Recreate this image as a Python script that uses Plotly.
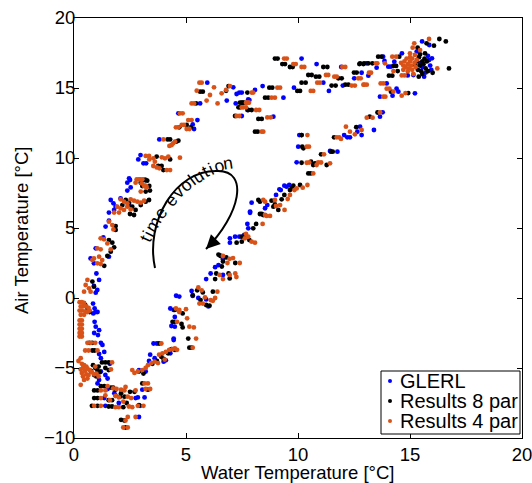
import math
import plotly.graph_objects as go

# ---------------- data (water temperature, air temperature) ----------------
glerl_points = [
    (0.85,-0.4),(0.92,-0.75),(0.97,-1.0),(0.86,-1.1),(1.05,-1.0),(0.92,-1.7),(0.97,-2.05),(0.9,-2.5),
    (1.07,-2.65),(1.12,-2.3),(1.2,-3.2),(1.27,-3.35),(1.35,-3.85),(1.12,-4.0),(1.2,-4.3),(1.12,-5.85),
    (1.05,-6.1),(1.2,-5.25),(1.4,-5.5),(1.5,-5.75),(1.6,-4.7),(1.35,-7.15),(1.4,-7.7),(1.8,-6.8),
    (1.85,-6.95),(2.95,-7.7),(2.75,-7.15),(2.85,-7.1),(2.9,-8.5),(3.15,-7.1),(1.5,-6.5),(2.0,-7.5),
    (2.9,-5.15),(3.2,-5.25),(3.05,-6.55),(3.4,-4.05),(3.55,-3.25),(3.7,-3.25),(4.0,-4.55),(4.1,-4.45),
    (4.3,-3.95),(4.55,-3.7),(4.45,-3.0),(3.35,-4.5),(3.6,-4.3),
    (4.3,-0.75),(4.45,-0.85),(4.5,-2.05),(4.35,-2.0),(4.45,-2.9),(5.25,0.5),(5.3,0.15),(4.56,0.16),
    (4.7,0.1),(5.55,0.0),(5.9,-0.1),(6.0,-0.6),(4.5,-1.35),
    (6.65,2.75),(6.45,2.35),(6.65,1.65),(6.1,1.75),(5.9,1.35),(6.5,3.05),(6.3,2.2),
    (6.96,4.26),(6.96,3.95),(7.19,4.38),(7.38,4.38),(7.6,4.5),(7.74,5.29),(7.78,4.98),(7.86,6.09),
    (7.93,6.81),(7.86,6.17),(8.63,6.64),(8.53,6.41),
    (9.39,8.02),(9.49,7.95),(9.61,8.07),(9.17,7.76),(9.23,7.71),(9.02,7.36),(9.94,9.69),(11.43,10.5),
    (11.76,10.45),(10.01,10.81),(10.06,11.64),(10.16,11.64),
    (12.2,11.48),(12.32,11.48),(12.06,11.64),(12.65,11.88),(12.77,12.24),(13.66,12.95),(13.78,13.26),
    (13.39,12.0),(12.84,11.64),
    (15.54,18.33),(15.86,18.07),(14.64,17.48),(15.98,17.12),(15.63,15.81),(15.15,15.93),(14.9,15.9),
    (13.8,17.24),(13.51,16.45),(13.86,16.93),(14.03,16.52),(14.14,16.52),(14.3,16.88),(12.84,16.09),
    (13.96,15.33),(14.4,14.95),(14.48,14.74),(15.22,14.62),(14.22,14.45),(13.66,14.38),(15.9,16.6),
    (15.8,17.3),(15.55,16.5),(15.7,16.1),(15.95,16.3),(15.45,16.8),(15.85,17.0),(15.3,17.6),
    (10.16,17.1),(10.83,16.71),(11.93,16.5),(13.07,16.76),(12.51,15.69),(13.14,15.88),(11.13,15.38),
    (12.0,15.17),(8.42,15.14),(9.82,15.02),(11.38,14.79),(9.35,14.31),(7.49,14.67),(8.08,14.86),
    (7.83,14.14),(7.74,13.43),(8.9,12.95),(7.49,13.0),
    (5.95,15.38),(7.11,15.05),(7.26,14.57),(7.38,14.67),(5.63,13.9),(6.82,14.1),(7.22,13.9),(7.78,14.19),
    (4.66,13.19),(5.3,12.4),(5.36,12.07),(5.51,12.71),(3.81,11.33),
    (2.87,9.9),(2.97,10.21),(3.1,9.62),(3.22,9.62),(2.5,8.43),(2.38,8.24),
    (2.46,8.55),(2.53,7.9),(2.38,7.67),(1.64,7.0),(1.76,6.76),(1.86,6.52),(1.56,6.1),(1.79,6.29),
    (2.08,7.12),(2.46,6.64),
    (1.41,5.1),(1.56,5.52),(1.31,4.33),(0.97,3.55),(0.74,2.83),(0.89,2.48),(1.56,2.95),(1.12,1.29),
    (0.89,0.86),(1.04,0.57),(0.97,0.38),(1.0,1.75),
]

results8_points = [
    (0.5,-0.5),(0.6,-0.8),(0.7,-1.0),(0.68,-3.2),(0.82,-3.2),(0.82,-3.75),(0.92,-3.75),(0.85,-4.8),
    (0.95,-5.0),(1.05,-5.2),(1.15,-5.3),(0.9,-5.5),(1.0,-5.6),(0.75,-5.2),(1.1,-4.9),(1.25,-4.6),
    (1.4,-4.6),(1.55,-4.6),(1.4,-5.0),(1.55,-5.15),(1.2,-6.3),(1.35,-6.3),(1.65,-6.4),(1.75,-6.4),
    (2.5,-6.7),(2.7,-6.7),(0.9,-6.6),(1.05,-6.6),(0.9,-7.15),(1.05,-7.15),(1.55,-7.3),(1.7,-7.3),
    (2.05,-7.05),(2.25,-7.05),(0.8,-7.7),(1.05,-7.7),(1.55,-7.75),(1.7,-7.75),(2.2,-7.8),(2.9,-7.65),
    (2.1,-8.7),(2.25,-8.75),(2.3,-9.25),(1.85,-6.55),(2.1,-6.8),(2.35,-7.5),
    (2.9,-5.25),(3.1,-5.4),(3.05,-6.1),(3.3,-6.55),(3.5,-4.7),(3.7,-4.5),(3.8,-3.25),(3.9,-4.2),
    (4.0,-4.35),(4.2,-3.95),(4.35,-3.65),(4.5,-3.7),(5.15,-3.55),(5.25,-3.55),
    (4.85,-1.1),(4.4,-1.7),(4.5,-1.7),(4.85,-2.1),(4.8,-1.85),(5.1,-2.9),(5.5,0.55),(5.3,0.2),
    (5.75,0.4),(5.65,-0.15),(5.9,-0.5),(6.05,-0.55),(6.2,0.45),(4.5,-0.85),
    (6.45,3.1),(6.55,3.0),(6.65,2.6),(6.6,2.25),(6.9,1.75),(7.2,2.5),(6.35,1.75),(6.3,1.35),(6.95,1.4),
    (6.8,2.9),
    (7.26,3.95),(7.49,4.38),(7.63,4.38),(7.49,4.02),(7.83,4.14),(8.0,4.98),(8.13,5.29),(8.3,6.0),
    (8.23,7.0),(8.3,6.88),(8.82,6.95),(9.27,7.05),(8.9,6.52),(8.97,6.69),(8.45,5.93),(8.38,6.0),(9.12,6.29),
    (9.79,8.02),(9.72,7.83),(10.09,8.07),(9.64,7.71),(9.39,7.36),(10.46,8.9),(10.57,8.9),(10.16,9.66),
    (10.58,9.74),(10.76,9.62),(10.68,9.5),(11.28,9.5),(11.03,10.26),(10.19,10.81),(10.24,10.69),
    (10.16,11.64),(11.47,10.45),(11.55,10.45),
    (11.61,11.48),(13.2,12.95),(13.55,13.25),(12.6,12.2),
    (16.31,18.5),(16.6,18.33),(16.74,16.4),(16.07,18.02),(15.34,17.88),(15.67,17.48),(15.74,18.19),
    (15.39,15.81),(16.01,16.09),(13.58,17.24),(13.73,17.24),(14.52,17.24),(12.77,16.76),(12.95,16.76),
    (13.14,16.76),(13.32,16.76),(14.26,16.58),(14.38,16.58),(14.45,16.21),(14.06,15.88),(14.21,15.88),
    (14.15,14.74),(14.92,14.64),(15.35,16.3),(15.45,16.6),(15.55,16.9),(15.65,17.1),(15.4,17.2),
    (15.7,16.4),(15.5,16.2),(15.6,16.7),(15.75,16.9),(15.3,16.9),(15.45,17.4),(15.8,16.2),(15.55,16.0),
    (15.25,16.6),
    (8.97,17.1),(9.09,17.1),(9.3,16.71),(9.42,16.71),(9.64,16.5),(9.76,16.5),(11.13,16.5),(11.31,16.5),
    (12.74,16.71),(12.92,16.71),(10.46,15.93),(10.61,15.93),(10.8,15.81),(10.95,15.81),(11.8,15.69),
    (11.95,15.69),(12.5,16.1),(12.62,16.1),(10.16,15.38),(10.34,15.38),(11.5,15.17),(11.68,15.17),
    (12.11,15.24),(12.25,15.24),(8.72,15.02),(8.85,15.02),(9.97,14.79),(10.09,14.79),(8.53,14.31),
    (8.67,14.31),(7.74,14.67),(7.49,13.95),(7.59,13.95),(7.78,13.43),(7.93,13.43),(8.23,12.79),
    (8.38,12.79),(8.08,11.88),(8.2,11.88),
    (5.63,14.74),(5.75,14.74),(6.9,15.14),(6.79,14.8),(5.45,13.9),(7.41,13.95),(7.53,13.95),(7.34,13.62),
    (7.41,13.62),(7.19,13.0),(5.03,12.36),(4.7,12.19),(5.21,12.19),(4.18,11.33),(4.29,11.33),(4.58,11.17),
    (4.66,11.24),
    (3.69,10.1),(4.29,9.9),(3.76,9.43),(3.91,9.43),(3.99,9.14),(3.1,8.43),(3.17,8.43),(3.17,8.0),(3.36,8.0),
    (3.2,8.43),(3.27,8.38),(3.39,7.67),(3.2,7.6),(3.05,8.0),(2.98,8.24),(2.31,7.0),(2.46,6.81),(2.6,6.52),
    (2.75,6.29),(2.98,6.64),(3.2,6.88),(3.35,7.0),(2.68,5.93),(2.5,6.0),(2.16,6.64),
    (1.86,5.14),(1.86,4.86),(1.56,4.14),(1.71,3.95),(1.79,3.62),(1.64,3.31),(1.49,3.0),(0.82,1.17),
    (0.89,0.81),(1.35,2.3),
]

results4_points = [
    (0.25,-0.3),(0.35,-0.3),(0.45,-0.35),(0.3,-0.6),(0.4,-0.6),(0.55,-0.6),(0.65,-0.7),(0.25,-0.9),
    (0.35,-0.9),(0.5,-0.95),(0.6,-1.0),(0.7,-0.9),(0.3,-1.2),(0.45,-1.2),(0.25,-1.6),(0.35,-1.6),
    (0.25,-1.9),(0.35,-1.9),(0.25,-2.2),(0.35,-2.2),(0.25,-2.5),(0.35,-2.5),(0.25,-2.75),(0.35,-2.75),
    (0.6,-3.2),(0.75,-3.2),(0.95,-3.2),(0.5,-3.75),(0.65,-3.75),(1.05,-3.75),(0.3,-4.3),(0.2,-4.5),
    (0.35,-4.7),(0.45,-4.8),(0.55,-4.9),(0.4,-5.0),(0.6,-5.05),(0.3,-5.1),(0.5,-5.2),(0.7,-5.15),
    (0.8,-5.3),(0.35,-5.35),(0.55,-5.45),(0.65,-5.5),(0.9,-5.45),(0.4,-5.6),(0.6,-5.75),(0.45,-5.85),
    (0.3,-6.2),(1.0,-5.4),(1.1,-5.6),(0.95,-4.9),(1.7,-4.6),(1.65,-5.1),(1.2,-6.6),(1.4,-6.6),(1.5,-6.3),
    (1.75,-6.45),(1.9,-6.5),(2.1,-6.55),(2.25,-6.6),(2.3,-6.35),(2.75,-6.6),(1.2,-7.15),(1.85,-7.0),
    (2.0,-7.1),(2.4,-7.05),(2.55,-7.15),(0.9,-7.7),(1.2,-7.7),(1.85,-7.8),(2.0,-7.8),(2.45,-7.75),
    (2.6,-7.8),(2.85,-7.7),(3.1,-7.7),(2.4,-8.5),(2.75,-8.5),(2.3,-8.75),(2.2,-9.25),(2.4,-9.25),
    (1.6,-7.3),(2.2,-7.4),(1.4,-6.95),
    (2.6,-5.15),(2.7,-5.35),(2.85,-5.25),(3.05,-5.15),(3.2,-5.0),(3.15,-6.1),(3.3,-6.1),(3.2,-6.5),
    (3.4,-6.5),(3.3,-4.8),(3.45,-4.65),(3.6,-4.55),(3.75,-4.65),(3.8,-4.05),(3.95,-3.95),(4.1,-3.85),
    (4.25,-3.7),(4.4,-3.65),(4.5,-3.6),(3.9,-3.25),(4.05,-4.4),(5.3,-3.55),(4.6,-3.7),
    (4.55,-0.75),(4.7,-0.85),(5.0,-0.8),(4.6,-1.7),(5.05,-1.45),(5.15,-2.05),(5.55,0.75),(5.7,0.55),
    (5.85,0.05),(6.1,-0.15),(6.2,-0.2),(6.3,0.0),(6.4,0.45),(5.6,-0.4),(5.75,-0.4),(4.7,-1.0),
    (5.35,-2.1),(5.45,-2.9),
    (6.65,3.0),(6.85,2.5),(6.95,1.65),(7.25,1.5),(7.2,1.75),(7.4,2.5),(6.5,1.65),(6.65,1.35),(6.95,2.8),
    (7.1,2.85),
    (7.63,4.26),(7.78,4.38),(7.93,4.02),(8.08,3.95),(7.68,4.57),(8.42,5.29),(8.53,5.93),(8.45,7.0),
    (8.53,6.88),(8.97,7.0),(9.02,6.57),(9.2,6.64),(9.4,6.29),(8.6,5.86),(8.75,5.86),
    (9.84,7.71),(9.94,7.83),(10.21,7.88),(10.42,8.07),(9.54,7.07),(9.64,7.36),(10.68,8.9),(10.39,9.66),
    (10.5,9.68),(10.83,9.5),(10.9,9.68),(11.03,9.68),(11.43,9.62),(11.16,10.26),(10.39,10.81),
    (10.49,10.81),(10.42,11.64),
    (11.73,11.48),(11.84,11.48),(11.92,11.36),(12.14,12.24),(12.32,11.88),(12.54,11.69),(12.84,12.0),
    (13.07,12.88),(13.33,12.88),(13.66,13.26),
    (15.85,18.5),(15.19,18.19),(15.12,17.88),(15.45,17.71),(15.0,17.48),(15.22,17.36),(16.22,16.4),
    (14.63,15.9),(14.76,15.9),(14.21,17.24),(14.38,17.24),(13.48,16.76),(13.54,16.76),(13.88,16.76),
    (14.26,16.21),(13.17,16.09),(13.26,16.09),(12.92,15.24),(13.07,15.24),(13.69,15.33),(13.81,15.33),
    (13.96,14.95),(14.08,14.95),(14.26,14.74),(14.8,14.64),(14.63,14.45),(13.81,14.38),(13.9,14.38),
    (14.7,16.3),(14.8,16.5),(14.9,16.7),(15.0,16.9),(15.1,17.1),(14.75,16.9),(14.95,16.4),(15.05,16.6),
    (15.2,16.8),(14.85,17.1),(14.7,16.6),(15.1,16.3),(15.25,16.5),(14.6,16.8),(15.0,17.2),(14.9,16.2),
    (15.3,17.0),(15.15,16.0),
    (9.38,17.1),(9.5,17.1),(9.79,16.71),(9.9,16.71),(10.16,16.5),(10.28,16.5),(11.98,16.5),(12.11,16.5),
    (11.25,15.93),(11.35,15.93),(11.62,15.81),(11.73,15.81),(12.69,15.69),(12.8,15.69),(10.86,15.38),
    (10.98,15.38),(12.4,15.17),(12.54,15.17),(12.96,15.24),(9.08,15.02),(9.2,15.02),(10.57,14.79),
    (10.68,14.79),(8.82,14.31),(8.97,14.31),(7.93,14.67),(8.0,14.67),(7.71,13.95),(7.81,13.95),
    (7.49,13.62),(8.13,13.43),(8.27,13.43),(8.63,12.9),(8.78,12.9),(8.38,11.88),(8.45,11.88),
    (5.6,15.38),(5.7,15.38),(5.48,14.81),(6.25,15.05),(6.07,14.5),(6.59,14.62),(6.79,14.86),(6.96,15.14),
    (5.25,13.9),(5.36,13.9),(5.92,14.1),(6.41,13.9),(7.68,13.95),(7.78,13.95),(7.56,13.62),(7.68,13.62),
    (7.26,13.0),(7.38,13.0),(4.73,13.19),(4.85,13.19),(4.81,12.36),(4.91,12.36),(4.55,12.19),(4.66,12.19),
    (5.03,12.07),(5.15,12.07),(5.1,12.71),(5.25,12.71),(3.99,11.33),(4.26,10.86),(4.36,10.93),
    (4.43,11.05),(4.51,11.17),
    (3.36,9.9),(3.54,9.98),(3.92,10.05),(4.06,9.98),(4.21,10.1),(4.73,10.02),(3.54,9.43),(3.69,9.33),
    (3.81,9.26),(3.61,9.74),(4.14,9.14),(4.29,9.14),(2.8,8.48),(2.95,8.48),(3.02,8.19),(3.22,8.0),
    (3.2,10.15),(3.35,10.15),
    (2.9,8.48),(3.05,8.48),(3.13,8.0),(3.24,7.9),(2.98,7.6),(2.08,7.05),(2.23,6.88),(2.38,6.76),
    (2.53,7.05),(2.68,6.95),(2.83,6.88),(1.93,6.52),(2.08,6.4),(2.23,6.29),(2.38,6.52),(2.53,6.33),
    (2.98,6.81),(3.13,6.95),(1.79,6.1),(2.01,6.1),(2.75,8.24),
    (1.56,5.45),(1.71,5.21),(1.76,4.9),(1.19,4.26),(1.34,4.19),(1.04,3.55),(1.19,3.48),(1.49,3.9),
    (1.64,3.48),(0.89,2.83),(1.12,2.95),(0.82,2.71),(1.26,2.71),(1.04,2.48),(1.19,2.43),(0.6,1.29),
    (0.52,0.93),(0.67,0.69),(0.45,0.45),(0.74,0.45),
]

glerl_water = [p[0] for p in glerl_points]
glerl_air = [p[1] for p in glerl_points]
results8_water = [p[0] for p in results8_points]
results8_air = [p[1] for p in results8_points]
results4_water = [p[0] for p in results4_points]
results4_air = [p[1] for p in results4_points]

series_names = ["GLERL", "Results 8 par", "Results 4 par"]
series_colors = ["#0000FF", "#000000", "#D95319"]
x_ticks = [0, 5, 10, 15, 20]
y_ticks = [-10, -5, 0, 5, 10, 15, 20]
annotation_text = "time evolution"
x_title = "Water Temperature [°C]"
y_title = "Air Temperature [°C]"

FONT = "Liberation Sans, Arial, Helvetica, sans-serif"
W, H = 532, 483
ML, MR, MT, MB = 74, 10, 18, 45
PW, PH = W - ML - MR, H - MT - MB
X0, X1, Y0, Y1 = 0, 20, -10, 20


def to_data(px, py):
    return (X0 + (px - ML) / PW * (X1 - X0), Y1 - (py - MT) / PH * (Y1 - Y0))


def px2paper(px, py):
    return (px - ML) / PW, (MT + PH - py) / PH


fig = go.Figure()
for wx, ay, name, col in [
    (glerl_water, glerl_air, series_names[0], series_colors[0]),
    (results8_water, results8_air, series_names[1], series_colors[1]),
    (results4_water, results4_air, series_names[2], series_colors[2]),
]:
    fig.add_trace(go.Scatter(x=wx, y=ay, mode="markers", name=name, showlegend=False,
                             marker=dict(size=4.8, color=col, line=dict(width=0))))

# ---------------- curved arrow ----------------
seg1 = [(155, 268), (145, 222), (175, 170), (217, 171)]
seg2 = [(217, 171), (250, 170), (240, 215), (206, 249)]
d1 = [to_data(*p) for p in seg1]
d2 = [to_data(*p) for p in seg2]
path = "M {:.4f},{:.4f} C {:.4f},{:.4f} {:.4f},{:.4f} {:.4f},{:.4f} C {:.4f},{:.4f} {:.4f},{:.4f} {:.4f},{:.4f}".format(
    d1[0][0], d1[0][1], d1[1][0], d1[1][1], d1[2][0], d1[2][1], d1[3][0], d1[3][1],
    d2[1][0], d2[1][1], d2[2][0], d2[2][1], d2[3][0], d2[3][1])
fig.add_shape(type="path", path=path, xref="x", yref="y", line=dict(color="black", width=2))
tip = to_data(206, 249)
fig.add_annotation(x=tip[0], y=tip[1], ax=10, ay=-10, xref="x", yref="y", text="",
                   showarrow=True, arrowhead=2, arrowsize=1.4, arrowwidth=2, arrowcolor="black")

# ---------------- curved text ----------------
base = [(150, 243), (160.5, 217), (194.4, 173.9), (229, 169)]


def bez(p, t):
    mt = 1 - t
    x = mt**3 * p[0][0] + 3 * mt**2 * t * p[1][0] + 3 * mt * t**2 * p[2][0] + t**3 * p[3][0]
    y = mt**3 * p[0][1] + 3 * mt**2 * t * p[1][1] + 3 * mt * t**2 * p[2][1] + t**3 * p[3][1]
    return x, y


N = 400
pts = [bez(base, i / N) for i in range(N + 1)]
cum = [0.0]
for i in range(1, N + 1):
    cum.append(cum[-1] + math.hypot(pts[i][0] - pts[i - 1][0], pts[i][1] - pts[i - 1][1]))


def at_len(s):
    for i in range(1, N + 1):
        if cum[i] >= s:
            return i
    return N


em = {"t": .278, "i": .222, "m": .833, "e": .556, " ": .278, "v": .5, "o": .556, "l": .222, "u": .556, "n": .556}
fs = 17.5
track = 0.8
s = 0.0
for ch in annotation_text:
    w = em[ch] * fs
    sc = s + w / 2
    s += w + track
    if ch == " ":
        continue
    i = at_len(sc)
    i0, i1 = max(i - 3, 0), min(i + 3, N)
    tx, ty = pts[i1][0] - pts[i0][0], pts[i1][1] - pts[i0][1]
    L = math.hypot(tx, ty)
    tx, ty = tx / L, ty / L
    nx, ny = ty, -tx
    off = 0.32 * fs
    cx, cy = pts[i][0] + nx * off, pts[i][1] + ny * off
    ang = math.degrees(math.atan2(ty, tx))
    dx, dy = to_data(cx, cy)
    fig.add_annotation(x=dx, y=dy, xref="x", yref="y", text=ch, showarrow=False,
                       textangle=ang, xanchor="center", yanchor="middle",
                       font=dict(family=FONT, size=fs, color="black"))

# ---------------- axis titles ----------------
fig.add_annotation(x=(298 - ML) / PW, y=(MT + PH - 473) / PH, xref="paper", yref="paper", text=x_title,
                   showarrow=False, xanchor="center", yanchor="middle",
                   font=dict(family=FONT, size=18.5, color="black"))
fig.add_annotation(x=(21 - ML) / PW, y=(MT + PH - 231) / PH, xref="paper", yref="paper", text=y_title,
                   showarrow=False, xanchor="center", yanchor="middle", textangle=-90,
                   font=dict(family=FONT, size=18.5, color="black"))

# ---------------- manual legend ----------------
lx0, ly0 = px2paper(381, 371)
lx1, ly1 = px2paper(520, 434)
fig.add_shape(type="rect", xref="paper", yref="paper", x0=lx0, y0=ly1, x1=lx1, y1=ly0,
              line=dict(color="black", width=1), fillcolor="white", layer="above")
rows_y = [381, 401, 421]
for name, col, ry in zip(series_names, series_colors, rows_y):
    dxp, dyp = px2paper(390, ry)
    fig.add_shape(type="circle", xref="paper", yref="paper", xsizemode="pixel", ysizemode="pixel",
                  xanchor=dxp, yanchor=dyp, x0=-2, x1=2, y0=-2, y1=2,
                  fillcolor=col, line=dict(width=0), layer="above")
    txp, typ = px2paper(398, ry)
    fig.add_annotation(x=txp, y=typ, xref="paper", yref="paper", text=name, showarrow=False,
                       xanchor="left", yanchor="middle", font=dict(family=FONT, size=20, color="black"))

axis_common = dict(showline=True, linecolor="black", linewidth=1, mirror="allticks", ticks="inside",
                   ticklen=5, tickcolor="black", showgrid=False, zeroline=False, automargin=False,
                   ticklabeloverflow="allow",
                   tickfont=dict(family=FONT, size=18.5, color="black"))
fig.update_layout(
    width=W, height=H, margin=dict(l=ML, r=MR, t=MT, b=MB, pad=0),
    paper_bgcolor="white", plot_bgcolor="white",
    xaxis=dict(range=[X0, X1], tickvals=x_ticks, ticktext=[str(v) for v in x_ticks], **axis_common),
    yaxis=dict(range=[Y0, Y1], tickvals=y_ticks, ticktext=[str(v).replace("-", "\u2212") for v in y_ticks],
               ticklabelstandoff=-6, **axis_common),
    showlegend=False,
)
fig.write_html("out.html", config={"displayModeBar": False, "staticPlot": True},
               post_script="document.body.style.margin='0';document.body.style.overflow='hidden';")
